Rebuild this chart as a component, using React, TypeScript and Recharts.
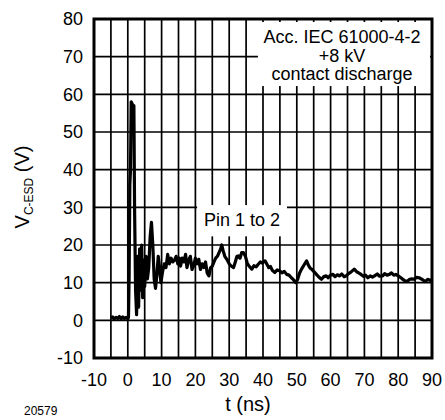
import React from 'react';
import { LineChart, Line, XAxis, YAxis, CartesianGrid, ReferenceArea } from 'recharts';

// ESD clamp waveform (t in ns, V in volts)
const timeNs = [
  -5, -4.5, -4, -3.5, -3, -2.5, -2, -1.5, -1, -0.5, 0, 0.2, 0.4, 0.6, 0.8, 1.0, 1.3, 1.6, 1.8, 2.0,
  2.3, 2.6, 2.9, 3.2, 3.5, 3.8, 4.1, 4.4, 4.7, 5.0, 5.4, 5.8, 6.2, 6.6, 7.0, 7.4, 7.8, 8.2, 8.6, 9.0,
  9.4, 9.8, 10.3, 10.8, 11.3, 11.8, 12.3, 12.8, 13.3, 13.8, 14.3, 14.8, 15.3, 15.6, 16.1, 16.6, 17.1, 17.5, 18.0, 18.5,
  19.0, 19.5, 20.0, 20.5, 21.0, 21.5, 22.0, 22.5, 23.0, 23.5, 24.0, 24.5, 25.0, 25.5, 26.0, 26.5, 27.0, 27.5, 27.8, 28.2,
  28.7, 29.3, 30.0, 30.5, 31.3, 31.8, 32.3, 32.7, 33.2, 33.7, 34.2, 34.8, 35.3, 35.8, 36.3, 36.7, 37.3, 38.0, 38.6, 39.2,
  39.8, 40.6, 41.2, 41.7, 42.2, 42.8, 43.5, 44.2, 45.0, 45.6, 46.3, 47.0, 47.7, 48.4, 49.0, 49.7, 50.3, 50.8, 51.4, 52.0,
  52.9, 53.5, 54.0, 54.4, 55.0, 55.8, 56.5, 57.3, 58.0, 58.7, 59.3, 60.0, 60.7, 61.3, 62.0, 62.6, 63.3, 64.0, 64.6, 65.3,
  66.0, 67.0, 67.7, 68.3, 69.0, 69.7, 70.3, 71.0, 71.7, 72.4, 73.0, 73.8, 74.5, 75.4, 76.0, 76.7, 77.4, 78.0, 78.7, 79.3,
  80.0, 80.8, 81.5, 82.1, 82.7, 83.4, 84.0, 84.7, 85.4, 86.2, 86.8, 87.5, 88.1, 88.8, 89.4, 90.0,
];
const voltage = [
  0.5, 0.9, 0.4, 0.8, 0.5, 1.0, 0.4, 0.9, 0.5, 0.8, 0.4, 0.8, 12, 36, 40, 58, 57.5, 54, 57, 30,
  8, 1.5, 17, 3.5, 19, 8, 20, 6, 16, 9, 17, 11, 14, 22, 26, 20, 11, 8.5, 12, 17,
  14, 10, 13, 15, 14, 17.5, 15, 16.5, 15.5, 16, 17, 15, 16.5, 14.4, 16.5, 15.5, 17.5, 14, 16, 17,
  13.5, 14.5, 16.5, 15, 16.2, 13.5, 15, 14, 15.5, 12.5, 11.8, 14, 14.4, 15.5, 16.5, 17, 18, 19, 20, 18.5,
  17, 16.2, 15, 14.5, 14, 15.5, 17, 17.1, 16.5, 18, 18, 17, 15.3, 14.5, 14, 13.6, 14.5, 14.2, 14.9, 15.5,
  15.2, 15.8, 14.8, 14, 14.3, 13.2, 12.7, 13.4, 13.1, 12.6, 13, 12.2, 12, 11.3, 10.8, 10, 11, 12.5, 13.6, 14.5,
  15.8, 14.5, 13.8, 13.6, 13, 12.2, 11.5, 10.9, 11.6, 11.8, 11.3, 12, 12.2, 11.6, 12.1, 11.8, 12.3, 11.6, 11.8, 12.4,
  12.8, 13.6, 12.9, 12.6, 12.2, 11.7, 12, 11.3, 11.8, 11.5, 11.8, 12.3, 11.7, 11.8, 12.4, 12, 12.2, 12.6, 12, 12.2,
  11.8, 11.3, 10.8, 10.4, 10.4, 10.9, 11, 10.9, 11.4, 11.3, 11, 10.6, 10.4, 10.9, 10.6, 10.9,
];

const xTicks = [-10, -5, 0, 5, 10, 15, 20, 25, 30, 35, 40, 45, 50, 55, 60, 65, 70, 75, 80, 85, 90];
const yTicks = [-10, 0, 10, 20, 30, 40, 50, 60, 70, 80];
const noteLines = ['Acc. IEC 61000-4-2', '+8 kV', 'contact discharge'];
const traceLabel = 'Pin 1 to 2';

const data = timeNs.map((t, i) => ({ t, v: voltage[i] }));

const FONT = '"Liberation Sans", Arial, Helvetica, sans-serif';

const NoteBox = (props: any) => {
  const { x, y, width, height } = props;
  return (
    <g>
      <rect x={x} y={y} width={width} height={height} fill="#fff" />
      {noteLines.map((line, i) => (
        <text key={i} x={x + width / 2 - 2} y={y + 21 + i * 18.5} textAnchor="middle"
          fontFamily={FONT} fontSize={18} fill="#000">
          {line}
        </text>
      ))}
    </g>
  );
};

const PinBox = (props: any) => {
  const { x, y, width, height } = props;
  return (
    <g>
      <rect x={x} y={y} width={width} height={height} fill="#fff" />
      <text x={x + width / 2} y={y + 21} textAnchor="middle" fontFamily={FONT} fontSize={18} fill="#000">
        {traceLabel}
      </text>
    </g>
  );
};

const YTitle = () => (
  <text transform="translate(29, 187) rotate(-90)" textAnchor="middle" fontFamily={FONT} fontSize={20} fill="#000">
    V<tspan fontSize={12} dy={4}>C-ESD</tspan><tspan dy={-4}> (V)</tspan>
  </text>
);

const XTitle = () => (
  <text x={248} y={411} textAnchor="middle" fontFamily={FONT} fontSize={20} fill="#000">
    t (ns)
  </text>
);

export default function App() {
  return (
    <div style={{ position: 'absolute', left: 0, top: 0, width: 445, height: 420, background: '#fff' }}>
      <LineChart width={445} height={420} data={data} margin={{ top: 19, right: 13, bottom: 0, left: 0 }}>
        <CartesianGrid stroke="#000" strokeWidth={1.7} horizontalValues={yTicks} verticalValues={xTicks} />
        <XAxis
          dataKey="t"
          type="number"
          domain={[-10, 90]}
          ticks={xTicks}
          interval={0}
          height={62}
          axisLine={false}
          tickLine={false}
          tickSize={0}
          tickMargin={15}
          tickFormatter={(v: number) => (v % 10 === 0 ? String(v) : '')}
          tick={{ fill: '#000', fontSize: 18, fontFamily: FONT }}
          label={<XTitle />}
        />
        <YAxis
          type="number"
          domain={[-10, 80]}
          ticks={yTicks}
          interval={0}
          width={94}
          axisLine={false}
          tickLine={false}
          tickSize={0}
          tickMargin={11}
          tick={{ fill: '#000', fontSize: 18, fontFamily: FONT }}
          label={<YTitle />}
        />
        <ReferenceArea x1={38.5} x2={89.4} y1={62.2} y2={79.2} shape={<NoteBox />} />
        <ReferenceArea x1={20.5} x2={47.1} y1={22.3} y2={30.6} shape={<PinBox />} />
        <Line
          type="linear"
          dataKey="v"
          stroke="#000"
          strokeWidth={3.2}
          strokeLinejoin="round"
          dot={false}
          isAnimationActive={false}
        />
        <ReferenceArea x1={-10} x2={90} y1={-10} y2={80} fill="none" fillOpacity={0} stroke="#000" strokeWidth={3} />
      </LineChart>
      <div style={{ position: 'absolute', left: 24, top: 404, fontFamily: FONT, fontSize: 12, color: '#000' }}>
        20579
      </div>
    </div>
  );
}
